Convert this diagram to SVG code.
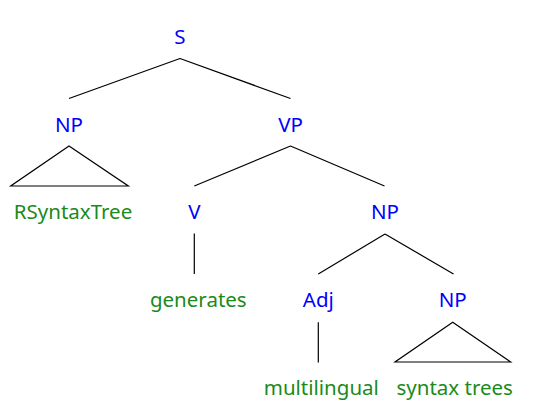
<svg xmlns="http://www.w3.org/2000/svg" width="540" height="420" viewBox="0 0 540 420">
<style>
.c{font-family:"Noto Sans",Lato,sans-serif;font-size:20.5px;fill:#0000ff;text-anchor:middle}
.l{font-family:"Noto Sans",Lato,sans-serif;font-size:20.5px;fill:#1a8a1a;text-anchor:middle}
.e{stroke:#000;stroke-width:1.2;fill:none}
</style>
<rect width="540" height="420" fill="#fff"/>
<g id="connectors">
<path class="e" d="M180,58.5 L69,98.5 M180,58.5 L290.5,98.5"/>
<path class="e" d="M69,146 L10.7,186 L128.3,186 Z"/>
<path class="e" d="M290.5,146 L194.3,186 M290.5,146 L384.5,186"/>
<path class="e" d="M194.3,233.5 L194.3,274"/>
<path class="e" d="M385,234 L318.3,274 M385,234 L453.5,274"/>
<path class="e" d="M318.3,322.3 L318.3,362.5"/>
<path class="e" d="M452.7,322.3 L395,362 L510.7,362 Z"/>
</g>
<g id="S"><text class="c" x="180" y="44">S</text></g>
<g id="NP1"><text class="c" x="69" y="132">NP</text></g>
<g id="RSyntaxTree"><text class="l" x="73" y="219">RSyntaxTree</text></g>
<g id="VP"><text class="c" x="290.5" y="132">VP</text></g>
<g id="V"><text class="c" x="194.3" y="219">V</text></g>
<g id="generates"><text class="l" x="198.3" y="307">generates</text></g>
<g id="NP2"><text class="c" x="385" y="219">NP</text></g>
<g id="Adj"><text class="c" x="318.3" y="307">Adj</text></g>
<g id="NP3"><text class="c" x="452.7" y="307">NP</text></g>
<g id="multilingual"><text class="l" x="321.3" y="395">multilingual</text></g>
<g id="syntaxtrees"><text class="l" x="454.7" y="395">syntax trees</text></g>
</svg>
